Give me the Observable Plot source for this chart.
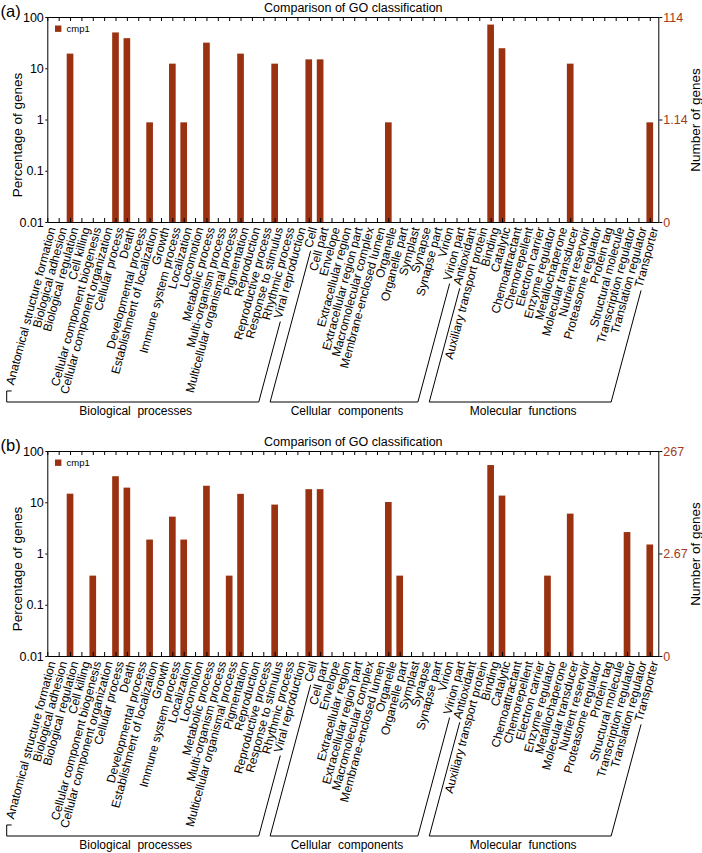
<!DOCTYPE html>
<html>
<head>
<meta charset="utf-8">
<script src="https://cdn.jsdelivr.net/npm/d3@7"></script>
<script src="https://cdn.jsdelivr.net/npm/@observablehq/plot@0.6"></script>
<style>
  html, body { margin: 0; padding: 0; overflow: hidden; background: #fff; }
  #chart svg { display: block; }
</style>
</head>
<body>
<div id="chart"></div>
<script>
// ---------------- DATA ----------------
const categories = [
  "Anatomical structure formation", "Biological adhesion", "Biological regulation", "Cell killing",
  "Cellular component biogenesis", "Cellular component organization", "Cellular process", "Death",
  "Developmental process", "Establishment of localization", "Growth", "Immune system process",
  "Localization", "Locomotion", "Metabolic process", "Multi-organism process",
  "Multicellular organismal process", "Pigmentation", "Reproduction", "Reproductive process",
  "Response to stimulus", "Rhythmic process", "Viral reproduction",
  "Cell", "Cell part", "Envelope", "Extracellular region", "Extracellular region part",
  "Macromolecular complex", "Membrane-enclosed lumen", "Organelle", "Organelle part",
  "Symplast", "Synapse", "Synapse part", "Virion", "Virion part",
  "Antioxidant", "Auxiliary transport protein", "Binding", "Catalytic", "Chemoattractant",
  "Chemorepellent", "Electron carrier", "Enzyme regulator", "Metallochaperone",
  "Molecular transducer", "Nutrient reservoir", "Proteasome regulator", "Protein tag",
  "Structural molecule", "Transcription regulator", "Translation regulator", "Transporter"
];
const groupNames = ["Biological  processes", "Cellular  components", "Molecular  functions"];
const groupFirst = [0, 23, 37];
const groupLast = [22, 36, 53];

const panelTags = ["(a)", "(b)"];
const chartTitle = "Comparison of GO classification";
const seriesName = "cmp1";
const leftAxisTitle = "Percentage of genes";
const rightAxisTitle = "Number of genes";

// percentage of genes per category (0 = no bar)
const pctA = [
  0, 0, 19.3, 0, 0, 0, 50.0, 38.6, 0, 0.88,
  0, 12.3, 0.88, 0, 31.6, 0, 0, 19.3, 0, 0,
  12.3, 0, 0, 14.9, 14.9, 0, 0, 0, 0, 0,
  0.88, 0, 0, 0, 0, 0, 0, 0, 0, 71.1,
  24.6, 0, 0, 0, 0, 0, 12.3, 0, 0, 0,
  0, 0, 0, 0.88
];
const pctB = [
  0, 0, 14.7, 0, 0.37, 0, 32.2, 19.3, 0, 1.87,
  0, 5.24, 1.87, 0, 21.0, 0, 0.37, 14.6, 0, 0,
  9.0, 0, 0, 18.0, 18.0, 0, 0, 0, 0, 0,
  10.1, 0.37, 0, 0, 0, 0, 0, 0, 0, 53.2,
  13.5, 0, 0, 0, 0.37, 0, 6.0, 0, 0, 0,
  0, 2.62, 0, 1.5
];

const leftTicks = [0.01, 0.1, 1, 10, 100];
const leftTickLabels = ["0.01", "0.1", "1", "10", "100"];
const rightTicks = [0.01, 1, 100];
const rightTickLabelsA = ["0", "1.14", "114"];
const rightTickLabelsB = ["0", "2.67", "267"];

// ---------------- STYLE / LAYOUT ----------------
const FONT = "'Liberation Sans', Arial, Helvetica, sans-serif";
const BAR = "#9a3212";
const AXISRED = "#a23b1c";
const W = 702, H = 434;
const M_TOP = 17, PLOT_H = 205, M_LEFT = 47.3, M_RIGHT = 43.7;
const M_BOTTOM = H - M_TOP - PLOT_H;
const X_MAX = 53.75;
const ANGLE = -75, LABEL_DX = 8, LABEL_DY = 6, LABEL_FS = 12;
const BRACKET_DROP = 180, BRACKET_GAP = 3, STUB_X = 6.7;

function makePanel(tag, values, rightLabels) {
  const bars = values.map((v, i) => ({i, v})).filter(d => d.v > 0);
  const idx = d3.range(categories.length);
  const leftMap = new Map(leftTicks.map((t, k) => [t, leftTickLabels[k]]));
  const rightMap = new Map(rightTicks.map((t, k) => [t, rightLabels[k]]));

  const plot = Plot.plot({
    width: W, height: H,
    marginTop: M_TOP, marginBottom: M_BOTTOM, marginLeft: M_LEFT, marginRight: M_RIGHT,
    style: {fontFamily: FONT, fontSize: "12px", background: "white", color: "black", overflow: "visible"},
    x: {type: "linear", domain: [0, X_MAX], axis: null},
    y: {type: "log", domain: [0.01, 100], axis: null},
    marks: [
      Plot.rect(bars, {x1: d => d.i - 0.5, x2: d => d.i + 0.5, y1: 0.01, y2: d => d.v,
        insetLeft: 2.35, insetRight: 2.35, fill: BAR}),
      Plot.frame({stroke: "black", strokeWidth: 1}),
      Plot.tickX(idx, {x: d => d, insetTop: PLOT_H - 4, stroke: "black"}),
      Plot.tickX(idx, {x: d => d, insetBottom: PLOT_H - 4, stroke: "black"}),
      Plot.axisY({anchor: "left", ticks: leftTicks, tickFormat: d => leftMap.get(d),
        tickSize: 2, tickPadding: 2, fontSize: 12.5, label: null}),
      Plot.axisY({anchor: "right", ticks: rightTicks, tickFormat: d => rightMap.get(d),
        tickSize: 3, tickPadding: 1.5, fontSize: 12.5, fill: AXISRED, stroke: "black", label: null}),
      Plot.text(categories, {x: (d, i) => i, text: d => d, frameAnchor: "bottom",
        rotate: ANGLE, textAnchor: "end", lineAnchor: "bottom", dx: LABEL_DX, dy: LABEL_DY,
        fontSize: LABEL_FS, fill: "black"}),
      Plot.text([chartTitle], {text: d => d, frameAnchor: "top", textAnchor: "middle",
        lineAnchor: "middle", dy: -10, fontSize: 12.5, fill: "black"}),
      Plot.text([leftAxisTitle], {text: d => d, frameAnchor: "left", textAnchor: "middle",
        lineAnchor: "middle", dx: -30.6, dy: 15, rotate: -90, fontSize: 13.5, fill: "black"}),
      Plot.text([rightAxisTitle], {text: d => d, frameAnchor: "right", textAnchor: "middle",
        lineAnchor: "middle", dx: 36.7, rotate: -90, fontSize: 13.5, fill: "black"}),
      Plot.text([tag], {text: d => d, frameAnchor: "top-left", dx: -47.3, dy: -5.5,
        textAnchor: "start", lineAnchor: "middle", fontSize: 16.5, fill: "black"}),
      Plot.dot([seriesName], {frameAnchor: "top-left", dx: 10.4, dy: 11.2, symbol: "square",
        r: 3.6, fill: BAR, stroke: null}),
      Plot.text([seriesName], {text: d => d, frameAnchor: "top-left", dx: 18.7, dy: 11.3,
        textAnchor: "start", lineAnchor: "middle", fontSize: 9.5, fill: "black"})
    ]
  });

  // group brackets, positioned from the plot's own scales
  const xs = plot.scale("x"), ys = plot.scale("y");
  const axisY = ys.apply(0.01);
  const bottomY = axisY + BRACKET_DROP;
  const ctx = document.createElement("canvas").getContext("2d");
  ctx.font = `${LABEL_FS}px 'Liberation Sans'`;
  const rad = ANGLE * Math.PI / 180, ux = Math.cos(rad), uy = Math.sin(rad);
  const labelStart = (i, gap) => {
    const ax = xs.apply(i) + LABEL_DX, ay = axisY + LABEL_DY;
    const L = ctx.measureText(categories[i]).width + gap;
    return [ax - L * ux, ay - L * uy];
  };
  const toBottom = p => { const t = (bottomY - p[1]) / (-uy); return [p[0] - t * ux, bottomY]; };

  const g = d3.select(plot).append("g").attr("fill", "none").attr("stroke", "black").attr("stroke-width", 1);
  const gt = d3.select(plot).append("g").attr("font-family", FONT).attr("font-size", 12).attr("fill", "black").attr("text-anchor", "middle");
  groupNames.forEach((name, k) => {
    const rTop = labelStart(groupLast[k], BRACKET_GAP);
    const rBot = toBottom(rTop);
    let pts;
    if (k === 0) {
      const p0 = labelStart(groupFirst[k], 6);
      pts = [p0, [STUB_X, p0[1]], [STUB_X, bottomY], rBot, rTop];
    } else {
      const lTop = labelStart(groupFirst[k], BRACKET_GAP);
      pts = [lTop, toBottom(lTop), rBot, rTop];
    }
    g.append("path").attr("d", d3.line()(pts));
    const lx = (pts[pts.length - 3][0] + rBot[0]) / 2 + 3;
    gt.append("text").attr("x", lx).attr("y", bottomY + 12.8).text(name).style("white-space", "pre");
  });
  return plot;
}

const chart = document.getElementById("chart");
chart.appendChild(makePanel(panelTags[0], pctA, rightTickLabelsA));
chart.appendChild(makePanel(panelTags[1], pctB, rightTickLabelsB));
</script>
</body>
</html>
